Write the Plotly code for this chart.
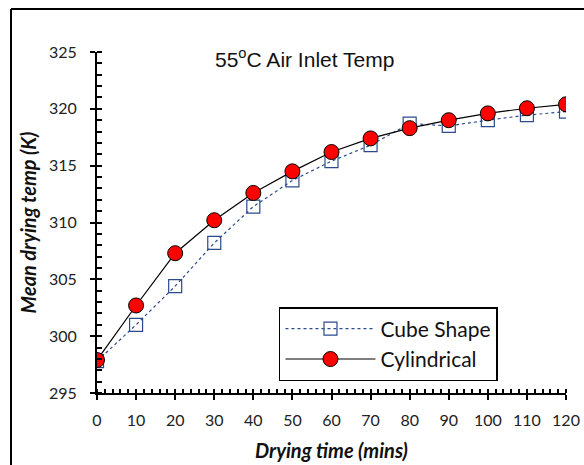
import plotly.graph_objects as go

time_min = [0, 10, 20, 30, 40, 50, 60, 70, 80, 90, 100, 110, 120]
cube_shape = [297.8, 301.0, 304.4, 308.2, 311.4, 313.7, 315.4, 316.8, 318.7, 318.5, 319.0, 319.45, 319.75]
cylindrical = [297.9, 302.7, 307.3, 310.2, 312.6, 314.5, 316.2, 317.4, 318.3, 319.0, 319.6, 320.05, 320.4]

tick_font = dict(family="Lato, Noto Sans, sans-serif", size=16, color="#222")
title_font = dict(family="Lato, Noto Sans, sans-serif", size=20, color="#111")

fig = go.Figure()
fig.add_trace(go.Scatter(
    x=time_min, y=cube_shape, name="Cube Shape", mode="lines+markers",
    line=dict(color="#2B4A8E", width=1.2, dash="dot"),
    marker=dict(symbol="square-open", size=13, color="#2B4A8E", line=dict(width=1.2, color="#2B4A8E")),
))
fig.add_trace(go.Scatter(
    x=time_min, y=cylindrical, name="Cylindrical", mode="lines+markers",
    line=dict(color="black", width=1.2),
    marker=dict(symbol="circle", size=15, color="#FF0000", line=dict(width=1, color="black")),
))

fig.update_layout(
    width=584, height=465,
    margin=dict(l=97, r=18, t=52, b=72),
    paper_bgcolor="white", plot_bgcolor="white",
    showlegend=True,
    legend=dict(
        x=0.388, y=0.252, xanchor="left", yanchor="top",
        bordercolor="black", borderwidth=1.5, bgcolor="white",
        font=dict(family="Lato, Noto Sans, sans-serif", size=21, color="#111"),
        itemwidth=90, tracegroupgap=2,
    ),
    xaxis=dict(
        range=[0, 120], tickvals=[0, 10, 20, 30, 40, 50, 60, 70, 80, 90, 100, 110, 120],
        showline=True, linecolor="black", linewidth=2, automargin=False,
        ticks="outside", ticklen=5, tickwidth=2, tickcolor="black",
        minor=dict(dtick=2, ticks="inside", ticklen=4, tickwidth=1.5, tickcolor="black"),
        showgrid=False, zeroline=False, tickfont=tick_font, ticklabelstandoff=7,
        title=dict(text="<b><i>Drying time (mins)</i></b>", font=title_font, standoff=16),
    ),
    yaxis=dict(
        range=[295, 325], tickvals=[295, 300, 305, 310, 315, 320, 325],
        showline=True, linecolor="black", linewidth=2, automargin=False,
        ticks="outside", ticklen=5, tickwidth=2, tickcolor="black",
        minor=dict(dtick=1, ticks="inside", ticklen=5, tickwidth=1.5, tickcolor="black"),
        showgrid=False, zeroline=False, tickfont=tick_font, ticklabelstandoff=10,
        title=dict(text="<b><i>Mean drying temp (K)</i></b>", font=title_font, standoff=7),
    ),
)

fig.add_annotation(
    text="55<sup>o</sup>C Air Inlet Temp", xref="paper", yref="paper",
    x=(304 - 97) / 469, y=(393 - 43) / 341, showarrow=False,
    font=dict(family="Liberation Sans, Arial, sans-serif", size=21, color="#111"),
)

# outer frame (top and left edges visible)
fig.add_shape(type="line", xref="paper", yref="paper",
              x0=(11 - 97) / 469, x1=(590 - 97) / 469, y0=(393 - 9) / 341, y1=(393 - 9) / 341,
              line=dict(color="black", width=2))
fig.add_shape(type="line", xref="paper", yref="paper",
              x0=(11 - 97) / 469, x1=(11 - 97) / 469, y0=(393 - 9) / 341, y1=(393 - 470) / 341,
              line=dict(color="black", width=2))

fig.write_html("out.html")
